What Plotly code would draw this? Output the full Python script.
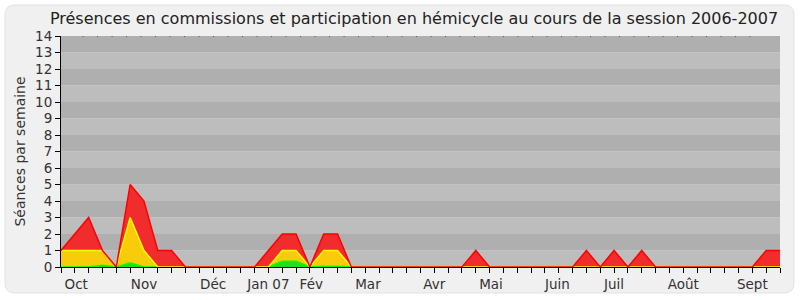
import plotly.graph_objects as go

# ---- data (weekly, session 2006-2007) ----
weeks = list(range(53))
# cumulative levels
total_level = [1, 2, 3, 1, 0, 5, 4, 1, 1, 0, 0, 0, 0, 0, 0, 1, 2, 2, 0, 2, 2, 0,
               0, 0, 0, 0, 0, 0, 0, 0, 1, 0, 0, 0, 0, 0, 0, 0, 1, 0, 1, 0, 1, 0,
               0, 0, 0, 0, 0, 0, 0, 1, 1]
yellow_level = [1, 1, 1, 1, 0, 3, 1, 0, 0, 0, 0, 0, 0, 0, 0, 0, 1, 1, 0, 1, 1, 0,
                0, 0, 0, 0, 0, 0, 0, 0, 0, 0, 0, 0, 0, 0, 0, 0, 0, 0, 0, 0, 0, 0,
                0, 0, 0, 0, 0, 0, 0, 0, 0]
green_level = [0, 0, 0, 0.1, 0, 0.25, 0, 0, 0, 0, 0, 0, 0, 0, 0, 0, 0.35, 0.35, 0, 0.05, 0.05, 0,
               0, 0, 0, 0, 0, 0, 0, 0, 0, 0, 0, 0, 0, 0, 0, 0, 0, 0, 0, 0, 0, 0,
               0, 0, 0, 0, 0, 0, 0, 0, 0]

green_vals = green_level
yellow_vals = [y - g for y, g in zip(yellow_level, green_level)]
red_vals = [t - y for t, y in zip(total_level, yellow_level)]

month_labels = ["Oct", "Nov", "Déc", "Jan 07", "Fév", "Mar", "Avr", "Mai", "Juin", "Juil", "Août", "Sept"]
month_pos = [1.1, 6.0, 11.0, 15.0, 18.1, 22.2, 27.0, 31.1, 35.9, 40.0, 45.0, 50.0]

y_ticks = list(range(15))

title = "Présences en commissions et participation en hémicycle au cours de la session 2006-2007"
ytitle = "Séances par semaine"

# ---- layout geometry ----
W, H = 800, 300
ML, MR, MT, MB = 61, 20, 36, 33
PW, PH = W - ML - MR, H - MT - MB


def px2paper(px, py):
    return (px - ML) / PW, (H - MB - py) / PH


def rounded_rect(x0, y0, x1, y1, r):
    def P(x, y):
        a, b = px2paper(x, y)
        return f"{a:.5f},{b:.5f}"
    s = f"M {P(x0 + r, y0)} L {P(x1 - r, y0)} Q {P(x1, y0)} {P(x1, y0 + r)} "
    s += f"L {P(x1, y1 - r)} Q {P(x1, y1)} {P(x1 - r, y1)} "
    s += f"L {P(x0 + r, y1)} Q {P(x0, y1)} {P(x0, y1 - r)} "
    s += f"L {P(x0, y0 + r)} Q {P(x0, y0)} {P(x0 + r, y0)} Z"
    return s


fig = go.Figure()

fig.add_trace(go.Scatter(x=weeks, y=green_vals, stackgroup="s", mode="lines",
                         line=dict(color="#00ff00", width=1.5), fillcolor="#22dd22",
                         hoverinfo="skip"))
fig.add_trace(go.Scatter(x=weeks, y=yellow_vals, stackgroup="s", mode="lines",
                         line=dict(color="#ffff00", width=1.5), fillcolor="#f9cc0b",
                         hoverinfo="skip"))
fig.add_trace(go.Scatter(x=weeks, y=red_vals, stackgroup="s", mode="lines",
                         line=dict(color="#ff0000", width=1.5), fillcolor="#f02c2c",
                         hoverinfo="skip"))
# invisible trace to activate the month-label axis
fig.add_trace(go.Scatter(x=[0], y=[0], xaxis="x2", mode="markers",
                         marker=dict(opacity=0), hoverinfo="skip", showlegend=False))

shapes = [dict(type="path", xref="paper", yref="paper", layer="below",
               path=rounded_rect(5, 5, 794, 293, 10),
               fillcolor="#f0f0f0", line=dict(color="#e2e2e2", width=1))]
for k in range(14):
    shapes.append(dict(type="rect", xref="paper", yref="y", x0=0, x1=1, y0=k, y1=k + 1,
                       layer="below", fillcolor="#afafaf" if k % 2 else "#bdbdbd",
                       line=dict(width=0)))
# dotted line along top of plot
shapes.append(dict(type="line", xref="paper", yref="y", x0=0.03, x1=0.97, y0=14, y1=14,
                   line=dict(color="black", width=1, dash="1px,13.5px")))

fig.update_layout(
    width=W, height=H,
    margin=dict(l=ML, r=MR, t=MT, b=MB, autoexpand=False),
    paper_bgcolor="white",
    plot_bgcolor="rgba(0,0,0,0)",
    showlegend=False,
    font=dict(family="DejaVu Sans", size=13, color="#333333"),
    title=dict(text=title, x=414 / W, xanchor="center", y=1 - 18 / H, yanchor="middle",
               font=dict(family="DejaVu Sans", size=16, color="#222222")),
    xaxis=dict(range=[0, 52], tickvals=weeks, ticktext=[""] * len(weeks),
               ticks="outside", ticklen=5, tickcolor="#000000", tickwidth=1,
               showline=True, linecolor="#000000", linewidth=1, automargin=False,
               showgrid=False, zeroline=False, fixedrange=True),
    xaxis2=dict(range=[0, 52], overlaying="x", side="bottom", tickvals=month_pos,
                ticktext=month_labels, ticks="outside", ticklen=5, tickcolor="rgba(0,0,0,0)",
                showline=False, showgrid=False, zeroline=False, automargin=False,
                tickfont=dict(size=13.5, color="#333333")),
    yaxis=dict(range=[0, 14], tickvals=y_ticks, ticks="outside", ticklen=5,
               tickcolor="#000000", showline=True, linecolor="#000000", linewidth=1,
               showgrid=False, zeroline=False, automargin=False,
               tickfont=dict(size=13.5, color="#333333"),
               title=dict(text=ytitle, font=dict(size=14, color="#333333"), standoff=6)),
    shapes=shapes,
)

fig.write_html("out.html")
